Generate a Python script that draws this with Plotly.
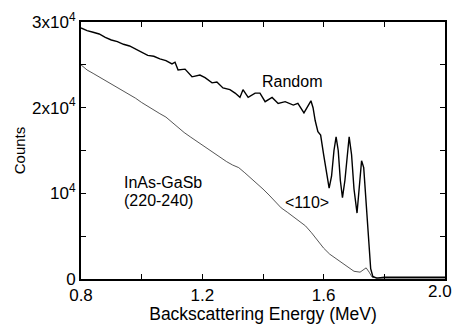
import plotly.graph_objects as go

# Random spectrum (energy in MeV, counts in units of 1e4)
random_energy = [0.80, 0.82, 0.84, 0.86, 0.88, 0.90, 0.92, 0.94, 0.96, 0.98,
                 1.00, 1.02, 1.04, 1.06, 1.08, 1.10, 1.110, 1.120, 1.143, 1.166,
                 1.192, 1.209, 1.232, 1.248, 1.268, 1.291, 1.308, 1.324, 1.334, 1.351,
                 1.374, 1.390, 1.407, 1.430, 1.450, 1.473, 1.500, 1.515, 1.535, 1.558,
                 1.565, 1.572, 1.581, 1.590, 1.600, 1.610, 1.618, 1.626, 1.634, 1.641,
                 1.648, 1.655, 1.662, 1.670, 1.678, 1.684, 1.692, 1.700, 1.710, 1.718,
                 1.725, 1.732, 1.740, 1.748, 1.755, 1.762, 1.775, 1.80, 1.90, 2.00]
random_counts = [2.93, 2.90, 2.88, 2.86, 2.82, 2.79, 2.77, 2.74, 2.72, 2.68,
                 2.65, 2.61, 2.60, 2.57, 2.55, 2.51, 2.53, 2.44, 2.45, 2.36,
                 2.38, 2.35, 2.29, 2.30, 2.23, 2.21, 2.17, 2.12, 2.21, 2.12,
                 2.17, 2.17, 2.07, 2.12, 2.05, 2.07, 2.03, 2.05, 1.94, 2.08,
                 2.00, 1.85, 1.72, 1.68, 1.45, 1.20, 1.06, 1.20, 1.50, 1.66,
                 1.50, 1.15, 0.95, 1.15, 1.50, 1.66, 1.45, 1.05, 0.77, 1.05,
                 1.38, 1.30, 0.90, 0.40, 0.12, 0.03, 0.01, 0.02, 0.02, 0.02]

# <110> aligned spectrum
aligned_energy = [0.80, 0.82, 0.84, 0.86, 0.88, 0.90, 0.92, 0.94, 0.96, 0.98,
                  1.00, 1.02, 1.04, 1.06, 1.08, 1.10, 1.12, 1.14, 1.16, 1.18,
                  1.20, 1.22, 1.24, 1.26, 1.28, 1.30, 1.32, 1.34, 1.36, 1.38,
                  1.40, 1.42, 1.44, 1.46, 1.48, 1.50, 1.52, 1.54, 1.56, 1.58,
                  1.60, 1.62, 1.64, 1.66, 1.68, 1.70, 1.72, 1.74, 1.75, 1.76,
                  1.78, 2.00]
aligned_counts = [2.50, 2.44, 2.40, 2.36, 2.32, 2.28, 2.24, 2.19, 2.16, 2.11,
                  2.06, 2.02, 1.98, 1.93, 1.89, 1.83, 1.76, 1.71, 1.66, 1.61,
                  1.56, 1.51, 1.46, 1.42, 1.37, 1.33, 1.30, 1.24, 1.18, 1.12,
                  1.05, 0.98, 0.90, 0.83, 0.78, 0.73, 0.68, 0.62, 0.54, 0.45,
                  0.36, 0.29, 0.24, 0.19, 0.14, 0.09, 0.08, 0.13, 0.08, 0.02,
                  0.01, 0.01]

x_tick_vals = [0.8, 1.0, 1.2, 1.4, 1.6, 1.8, 2.0]
x_tick_text = ["0.8", "", "1.2", "", "1.6", "", ""]
x_end_label = "2.0"  # drawn as an annotation so it stays inside the page
y_tick_vals = [0, 5000, 10000, 15000, 20000, 25000, 30000]
y_tick_text = ["0", "", "10<sup>4</sup>", "", "2x10<sup>4</sup>", "", "3x10<sup>4</sup>"]

SCALE = 1e4
FONT = "Liberation Sans, Arial, sans-serif"

fig = go.Figure()
fig.add_trace(go.Scatter(x=aligned_energy, y=[v * SCALE for v in aligned_counts],
                         mode="lines", line=dict(color="#2a2a2a", width=0.8),
                         showlegend=False))
fig.add_trace(go.Scatter(x=random_energy, y=[v * SCALE for v in random_counts],
                         mode="lines", line=dict(color="black", width=1.4),
                         showlegend=False))

label_font = dict(size=16, color="black", family=FONT)
fig.add_annotation(x=1.497, y=2.30e4, text="Random", showarrow=False, font=label_font)
fig.add_annotation(x=0.935, y=1.13e4, text="InAs-GaSb", showarrow=False,
                   xanchor="left", font=label_font)
fig.add_annotation(x=0.935, y=0.92e4, text="(220-240)", showarrow=False,
                   xanchor="left", font=label_font)
fig.add_annotation(x=1.466, y=0.89e4, text="&lt;110&gt;", showarrow=False,
                   xanchor="left", font=label_font)
fig.add_annotation(x=x_tick_vals[-1], y=0, text=x_end_label, showarrow=False,
                   xanchor="right", yanchor="top", xshift=9, yshift=-1,
                   font=dict(size=17, color="black", family=FONT))

axis_common = dict(showgrid=False, zeroline=False, showline=True, linecolor="black",
                   linewidth=2, mirror="ticks", ticks="inside", ticklen=5,
                   tickcolor="black", tickwidth=1, automargin=False,
                   tickfont=dict(size=17, color="black", family=FONT))

fig.update_xaxes(range=[0.8, 2.0], tickmode="array", tickvals=x_tick_vals,
                 ticktext=x_tick_text,
                 title=dict(text="Backscattering Energy (MeV)", standoff=4,
                            font=dict(size=17.5, color="black", family=FONT)),
                 **axis_common)
fig.update_yaxes(range=[0, 30000], tickmode="array", tickvals=y_tick_vals,
                 ticktext=y_tick_text,
                 title=dict(text="Counts", standoff=3,
                            font=dict(size=15, color="black", family=FONT)),
                 **axis_common)

fig.update_layout(width=455, height=324, margin=dict(l=81, r=10, t=22, b=45),
                  plot_bgcolor="white", paper_bgcolor="white")

fig.write_html("out.html")
